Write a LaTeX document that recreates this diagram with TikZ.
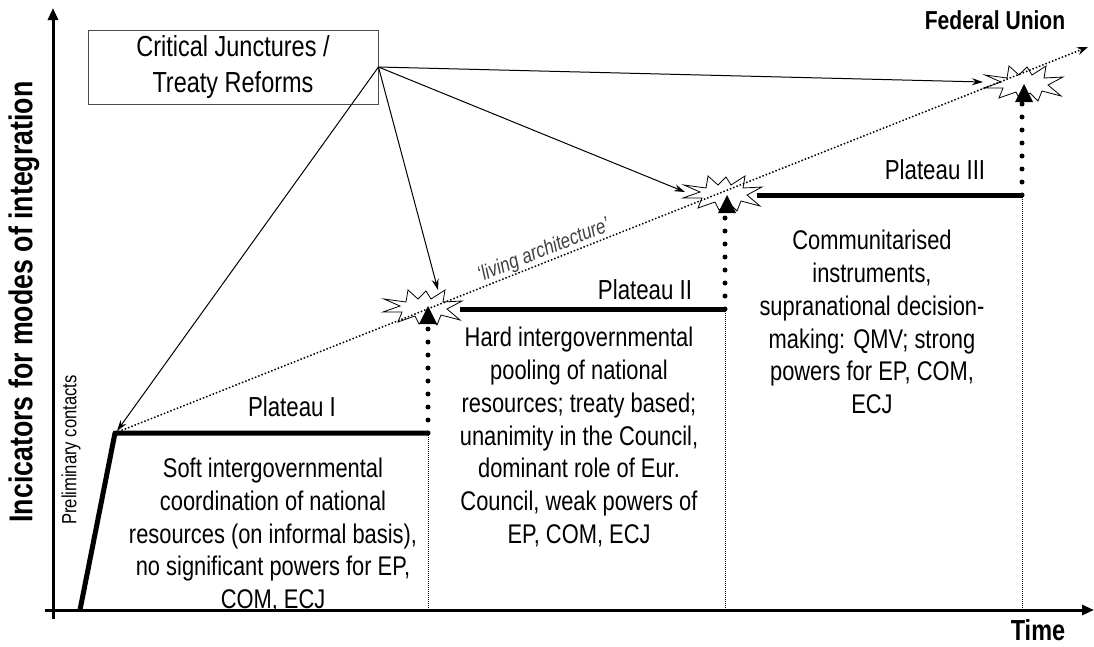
\documentclass[tikz,border=0pt]{standalone}
\usepackage{fontspec}
\setmainfont{Liberation Sans}[FakeStretch=0.81]
\usetikzlibrary{arrows.meta,calc}
\begin{document}
\begin{tikzpicture}[x=1pt,y=-1pt,
  body/.style={align=center, font=\fontsize{27}{32.7}\selectfont, inner sep=0pt},
  plabel/.style={font=\fontsize{27.5}{30}\selectfont, inner sep=0pt},
  plat/.style={line width=5pt},
  dotsup/.style={line width=5pt, dash pattern=on 0pt off 13pt, line cap=round},
  vline/.style={line width=0.9pt, dash pattern=on 1pt off 1pt},
  conn/.style={line width=1pt, -{Stealth[length=11pt,width=7pt]}},
  axis/.style={line width=3pt, -{Triangle[length=12pt,width=10pt]}},
  boom/.style={line width=0.8pt},
  tri/.style={fill=black}
]
\useasboundingbox (0,0) rectangle (1094,646);

% coordinates
\coordinate (o) at (80,610);
\coordinate (p1s) at (115,433);
\coordinate (p1e) at (428,433);
\coordinate (p2s) at (460,309);
\coordinate (p2e) at (725,309);
\coordinate (p3s) at (757,195);
\coordinate (p3e) at (1022,195);
\coordinate (s1) at (422,308);
\coordinate (s2) at (722,194);
\coordinate (s3) at (1023,84);
\coordinate (la) at (1088,47);

% body texts (under axis)
\node[body] (t1) at (273,535) {Soft intergovernmental\\coordination of national\\resources (on informal basis),\\no significant powers for EP,\\COM, ECJ};
\node[body] (t2) at (579,437) {Hard intergovernmental\\pooling of national\\resources; treaty based;\\unanimity in the Council,\\dominant role of Eur.\\Council, weak powers of\\EP, COM, ECJ};
\node[body] (t3) at (872,322) {Communitarised\\instruments,\\supranational decision-\\making: QMV; strong\\powers for EP, COM,\\ECJ};

% thin dotted verticals
\draw[vline] (p1e) -- (428,610);
\draw[vline] (p2e) -- (725,610);
\draw[vline] (p3e) -- (1022,610);

% axes
\coordinate (xa0) at (45,610);
\coordinate (xa1) at (1094,610);
\coordinate (ya0) at (53,619);
\coordinate (ya1) at (53,8);
\draw[axis] (xa0) -- (xa1);
\draw[axis] (ya0) -- (ya1);

% stars
\foreach \c in {s1,s2,s3}{
\draw[boom] ([shift={(-38,-9)}]\c) -- ++(22,3) -- ++(2,-12) -- ++(10,9) -- ++(8,-8) -- ++(5,8)
  -- ++(14,-9) -- ++(-2,12) -- ++(19,-1) -- ++(-15,8) -- ++(13,11) -- ++(-19,-5)
  -- ++(-4,10) -- ++(-8,-8) -- ++(-10,7) -- ++(-4,-8) -- ++(-17,6) -- ++(4,-10)
  -- ++(-19,0) -- ++(17,-6) -- cycle;
}

% living architecture
\draw[line width=1.5pt, dash pattern=on 1.5pt off 2pt, -{Stealth[length=11pt,width=8pt]}] (p1s) -- (la);
\node[font=\itshape\fontsize{21}{24}\selectfont, text=black!75, rotate=21.6, anchor=south, inner sep=1pt] (lat) at ($(p1s)!0.445!(la)$) {`living architecture'};

% plateaus
\draw[plat, line join=round] (o) -- (p1s) -- (p1e);
\draw[plat] (p2s) -- (p2e);
\draw[plat] (p3s) -- (p3e);

% thick dotted up arrows
\draw[dotsup] (p1e) -- (428,325);
\draw[dotsup] (p2e) -- (725,212);
\draw[dotsup] (p3e) -- (1022,101);
\coordinate (a1) at (428,306);
\coordinate (a2) at (727,195);
\coordinate (a3) at (1024,84);
\fill[tri] (a1) -- ++(9,18) -- ++(-18,0) -- cycle;
\fill[tri] (a2) -- ++(9,18) -- ++(-18,0) -- cycle;
\fill[tri] (a3) -- ++(9,18) -- ++(-18,0) -- cycle;

% box and connectors
\node[draw=black!70, line width=0.9pt, minimum width=290pt, minimum height=74pt, align=center,
  font=\fontsize{29}{36}\selectfont, inner sep=0pt] (box) at (233,67) {Critical Junctures /\\Treaty Reforms};
\coordinate (c1) at (117,431);
\coordinate (c2) at (438,290);
\coordinate (c3) at (685,192);
\coordinate (c4) at (983,82);
\draw[conn] (box.east) -- (c1);
\draw[conn] (box.east) -- (c2);
\draw[conn] (box.east) -- (c3);
\draw[conn] (box.east) -- (c4);

% labels
\node[plabel] (pl1) at (292,407) {Plateau I};
\node[plabel] (pl2) at (645,290) {Plateau II};
\node[plabel] (pl3) at (935,170) {Plateau III};
\node[font=\bfseries\fontsize{26}{30}\selectfont] (fu) at (995,20) {Federal Union};
\node[font=\bfseries\fontsize{29}{32}\selectfont] (time) at (1038,630) {Time};
\node[font=\bfseries\fontsize{33}{36}\selectfont, rotate=90] (ylab) at (24,302) {Incicators for modes of integration};
\node[font=\fontsize{20.5}{24}\selectfont, rotate=90] (prel) at (71,450) {Preliminary contacts};
\end{tikzpicture}
\end{document}
